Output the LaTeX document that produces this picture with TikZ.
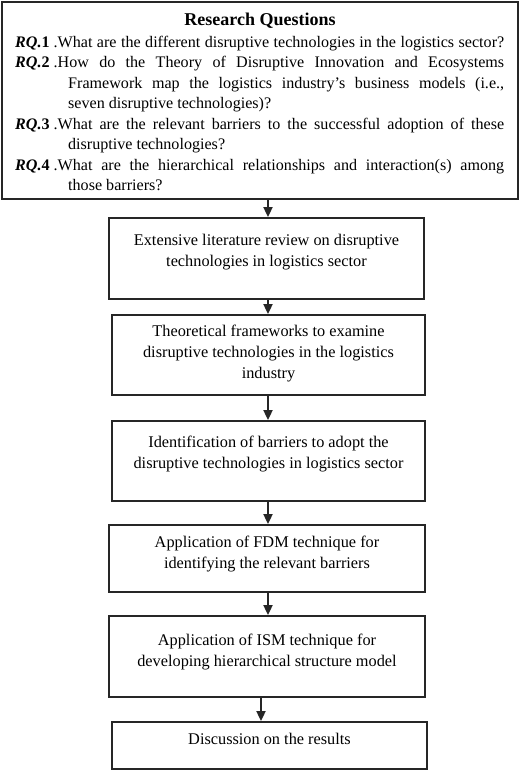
\documentclass[tikz,border=0pt]{standalone}
\usepackage{fontspec}
\setmainfont{Liberation Serif}
\usetikzlibrary{arrows.meta}
\newcommand\rqlabel[1]{\textbf{\textit{RQ.}#1}\hspace{4pt}}
\begin{document}
\begin{tikzpicture}[x=1pt,y=-1pt,
  box/.style={draw=black!85, line width=1.8pt, inner sep=0pt, rectangle},
  arr/.style={draw=black!85, line width=1.8pt, -{Triangle[length=10pt,width=9pt]}},
  btxt/.style={align=center, font=\fontsize{16.3}{21}\selectfont, inner sep=0pt, text=black}]
\useasboundingbox (0,0) rectangle (520,771);

% boxes
\node[box, minimum width=516pt, minimum height=197pt] (rq) at (260,100.5) {};
\node[box, minimum width=315pt, minimum height=81pt] (b2) at (266.5,258.5) {};
\node[box, minimum width=313pt, minimum height=80pt] (b3) at (268.5,355) {};
\node[box, minimum width=313pt, minimum height=80pt] (b4) at (268.5,461) {};
\node[box, minimum width=316pt, minimum height=67pt] (b5) at (267,558.5) {};
\node[box, minimum width=316pt, minimum height=81pt] (b6) at (267,656.5) {};
\node[box, minimum width=315pt, minimum height=47pt] (b7) at (269.5,745.5) {};

% top box text
\node[font=\fontsize{18}{20}\selectfont\bfseries, inner sep=0pt] (title) at (260,20.7) {Research Questions};
\node[anchor=base west, inner sep=0pt] (rqtext) at (15,47) {\parbox[t]{489pt}{\fontsize{16.1}{20.57}\selectfont
\tolerance=10000 \hyphenpenalty=10000 \parindent=0pt
{\parfillskip=0pt \rqlabel{1}.What are the different disruptive technologies in the logistics sector?\par}
\hangindent=53pt \hangafter=1
\rqlabel{2}.How do the Theory of Disruptive Innovation and Ecosystems\linebreak Framework map the logistics industry’s business models (i.e.,\linebreak seven disruptive technologies)?\par
\hangindent=53pt \hangafter=1
\rqlabel{3}.What are the relevant barriers to the successful adoption of these\linebreak disruptive technologies?\par
\hangindent=53pt \hangafter=1
\rqlabel{4}.What are the hierarchical relationships and interaction(s) among\linebreak those barriers?\par}};

% box texts
\node[btxt] (t2) at (266.5,252.5) {Extensive literature review on disruptive\\technologies in logistics sector};
\node[btxt] (t3) at (268.5,354) {Theoretical frameworks to examine\\disruptive technologies in the logistics\\industry};
\node[btxt] (t4) at (268.5,454.5) {Identification of barriers to adopt the\\disruptive technologies in logistics sector};
\node[btxt] (t5) at (267,554.5) {Application of FDM technique for\\identifying the relevant barriers};
\node[btxt] (t6) at (267,652) {Application of ISM technique for\\developing hierarchical structure model};
\node[btxt] (t7) at (269.5,738.5) {Discussion on the results};

% arrows
\coordinate (ax) at (268,0);
\coordinate (bx) at (261,0);
\draw[arr] (rq.south -| ax) -- (b2.north -| ax);
\draw[arr] (b2.south -| ax) -- (b3.north -| ax);
\draw[arr] (b3.south -| ax) -- (b4.north -| ax);
\draw[arr] (b4.south -| ax) -- (b5.north -| ax);
\draw[arr] (b5.south -| ax) -- (b6.north -| ax);
\draw[arr] (b6.south -| bx) -- (b7.north -| bx);
\end{tikzpicture}
\end{document}
